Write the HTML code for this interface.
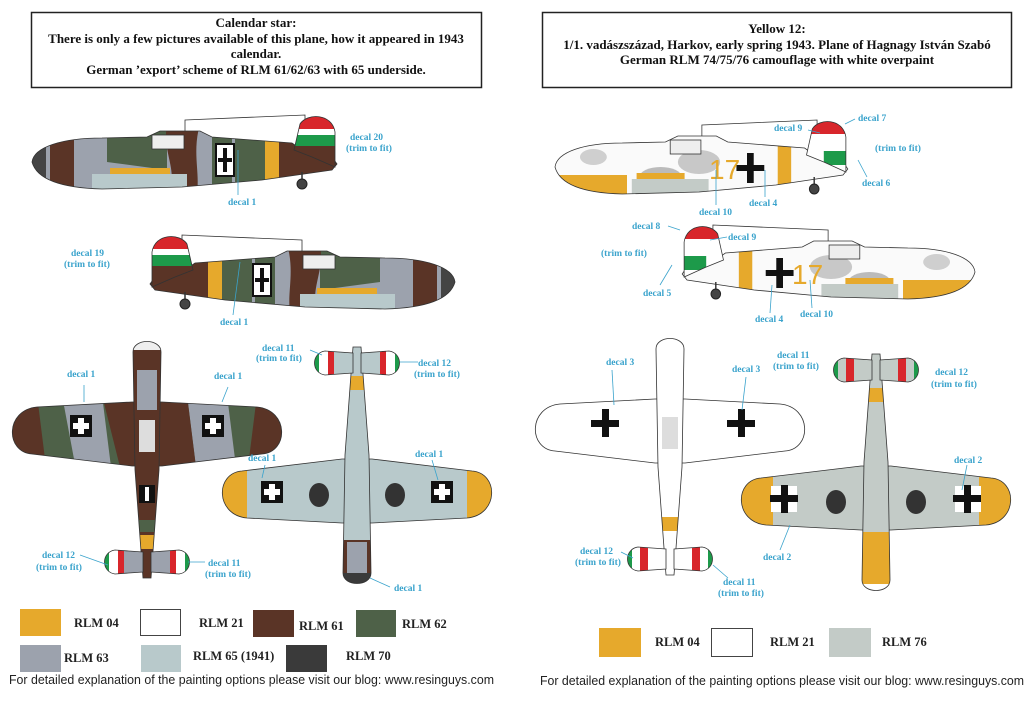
<!DOCTYPE html>
<html><head><meta charset="utf-8"><style>
html,body{margin:0;padding:0;background:#fff;}
svg{display:block;}
.h{font-family:"Liberation Serif",serif;font-weight:bold;font-size:13px;fill:#111;}
.d{font-family:"Liberation Serif",serif;font-weight:bold;font-size:9.5px;fill:#3aa3cc;}
.l{font-family:"Liberation Serif",serif;font-weight:bold;font-size:12.5px;fill:#222;}
.f{font-family:"Liberation Sans",sans-serif;font-size:12.5px;fill:#222;}
.ln{stroke:#3aa3cc;stroke-width:0.8;fill:none;}
</style></head><body>
<svg width="1027" height="710" viewBox="0 0 1027 710" xmlns="http://www.w3.org/2000/svg">
<defs>
<path id="fus" d="M0,50 C2,35 30,26 70,26 L115,25 L128,19 L168,19 L180,25 L260,31 L270,38 L300,45 L305,52 L300,58 L230,68 L150,75 L70,77 C30,76 5,68 0,50 Z"/>
<path id="fin" d="M262,38 L268,12 C275,1 300,1 303,20 L303,55 L280,45 Z"/>
<clipPath id="cf"><use href="#fus"/></clipPath>
<clipPath id="cfin"><use href="#fin"/></clipPath>
<path id="wing" d="M-15,62 L-110,67 C-142,70 -142,112 -115,114 L-15,126 L15,126 L115,114 C142,112 142,70 110,67 L15,62 Z"/>
<path id="body" d="M-14,12 C-14,-2 14,-2 14,12 L12,130 L4,238 L-4,238 L-12,130 Z"/>
<path id="tail" d="M-4,212 L-32,210 C-46,212 -46,232 -32,234 L-4,232 Z M4,212 L32,210 C46,212 46,232 32,234 L4,232 Z"/>
<clipPath id="cw"><use href="#wing"/></clipPath>
<clipPath id="ct"><use href="#tail"/></clipPath>
<clipPath id="cb"><use href="#body"/></clipPath>
</defs>

<rect x="31.5" y="12.5" width="450" height="75" fill="#fff" stroke="#222" stroke-width="1.5"/>
<text class="h" x="256" y="27" text-anchor="middle">Calendar star:</text>
<text class="h" x="256" y="43" text-anchor="middle">There is only a few pictures available of this plane,  how it appeared in 1943</text>
<text class="h" x="256" y="58" text-anchor="middle">calendar.</text>
<text class="h" x="256" y="74" text-anchor="middle">German ’export’ scheme of RLM 61/62/63 with 65 underside.</text>
<rect x="542.5" y="12.5" width="469" height="75" fill="#fff" stroke="#222" stroke-width="1.5"/>
<text class="h" x="777" y="33" text-anchor="middle">Yellow 12:</text>
<text class="h" x="777" y="49" text-anchor="middle">1/1. vadászszázad, Harkov, early spring 1943. Plane of Hagnagy István Szabó</text>
<text class="h" x="777" y="64" text-anchor="middle">German RLM  74/75/76 camouflage with white overpaint</text>

<g id="p1" transform="translate(32,112)">
 <polygon points="153,8 273,3 273,40 163,30 153,30" fill="#fff" stroke="#333" stroke-width="0.8"/>
 <g clip-path="url(#cf)">
  <rect x="0" y="0" width="310" height="80" fill="#9ca2ad"/>
  <rect x="0" y="0" width="14" height="80" fill="#444"/>
  <rect x="18" y="18" width="24" height="62" fill="#5a3426"/>
  <path d="M75,18 L135,18 L135,58 L75,50 Z" fill="#4e6148"/>
  <path d="M135,12 L168,12 C160,40 168,60 165,80 L138,80 C145,55 130,40 135,12 Z" fill="#5a3426"/>
  <rect x="180" y="18" width="20" height="62" fill="#4e6148"/>
  <rect x="203" y="18" width="30" height="62" fill="#4e6148"/>
  <rect x="233" y="18" width="14" height="62" fill="#e6a92c"/>
  <rect x="247" y="18" width="63" height="62" fill="#5a3426"/>
  <rect x="78" y="56" width="60" height="10" fill="#e6a92c"/>
  <rect x="60" y="62" width="95" height="18" fill="#b8c9cb"/>
 </g>
 <use href="#fus" fill="none" stroke="#333" stroke-width="0.8"/>
 <g clip-path="url(#cfin)">
  <rect x="255" y="0" width="50" height="60" fill="#5a3426"/>
  <rect x="255" y="0" width="50" height="17" fill="#d8262b"/>
  <rect x="255" y="17" width="50" height="6" fill="#fff"/>
  <rect x="255" y="23" width="50" height="11" fill="#1d9a4a"/>
 </g>
 <use href="#fin" fill="none" stroke="#333" stroke-width="0.8"/>
 <rect x="183" y="31" width="20" height="34" fill="#111"/>
 <rect x="185" y="33" width="16" height="30" fill="#fff"/>
 <rect x="191" y="36" width="4" height="24" fill="#111"/>
 <rect x="186" y="46" width="14" height="4" fill="#111"/>
 <rect x="120" y="23" width="32" height="14" fill="#eee" stroke="#333" stroke-width="0.8"/>
 <line x1="270" y1="60" x2="270" y2="70" stroke="#333" stroke-width="1.5"/>
 <circle cx="270" cy="72" r="5" fill="#444" stroke="#222"/>
</g>
<g transform="translate(455,232) scale(-1,1)"><use href="#p1" transform="translate(-32,-112)"/></g>

<g id="p3" transform="translate(555,117) scale(0.96,1)">
 <polygon points="153,8 273,3 273,40 163,30 153,30" fill="#fff" stroke="#333" stroke-width="0.8"/>
 <g clip-path="url(#cf)">
  <rect x="0" y="0" width="310" height="80" fill="#fafafa"/>
  <ellipse cx="40" cy="40" rx="14" ry="8" fill="#cfcfcf"/>
  <ellipse cx="150" cy="45" rx="22" ry="12" fill="#c8c8c8"/>
  <ellipse cx="110" cy="60" rx="22" ry="10" fill="#bbb"/>
  <rect x="0" y="58" width="75" height="22" fill="#e6a92c"/>
  <rect x="85" y="56" width="50" height="10" fill="#e6a92c"/>
  <rect x="80" y="62" width="80" height="18" fill="#c3cbc7"/>
  <rect x="232" y="18" width="14" height="62" fill="#e6a92c"/>
 </g>
 <use href="#fus" fill="none" stroke="#333" stroke-width="0.8"/>
 <g clip-path="url(#cfin)">
  <rect x="255" y="0" width="50" height="60" fill="#fff"/>
  <rect x="255" y="0" width="50" height="17" fill="#d8262b"/>
  <rect x="280" y="34" width="30" height="14" fill="#1d9a4a"/>
 </g>
 <use href="#fin" fill="none" stroke="#333" stroke-width="0.8"/>
 <rect x="200" y="36" width="7" height="30" fill="#111"/>
 <rect x="189" y="48" width="29" height="6" fill="#111"/>
 <rect x="120" y="23" width="32" height="14" fill="#eee" stroke="#333" stroke-width="0.8"/>
 <line x1="270" y1="60" x2="270" y2="70" stroke="#333" stroke-width="1.5"/>
 <circle cx="270" cy="72" r="5" fill="#444" stroke="#222"/>
</g>
<g transform="translate(975,222) scale(-1,1)"><use href="#p3" transform="translate(-555,-117)"/></g>
<text x="709" y="179" font-family="Liberation Sans,sans-serif" font-size="28" fill="#e6a92c">17</text>
<text x="792" y="284" font-family="Liberation Sans,sans-serif" font-size="28" fill="#e6a92c">17</text>

<g transform="translate(147,340)">
 <g clip-path="url(#cw)">
  <rect x="-145" y="55" width="290" height="80" fill="#4e6148"/>
  <path d="M-145,55 L-110,55 L-100,135 L-145,135 Z" fill="#5a3426"/>
  <path d="M-85,55 L-45,55 L-35,135 L-70,135 Z" fill="#9ca2ad"/>
  <path d="M-45,55 L-10,55 L-10,135 L-25,135 Z" fill="#5a3426"/>
  <path d="M40,55 L80,55 L90,135 L50,135 Z" fill="#9ca2ad"/>
  <path d="M10,55 L40,55 L50,135 L12,135 Z" fill="#5a3426"/>
  <path d="M110,55 L145,55 L145,135 L100,135 Z" fill="#5a3426"/>
 </g>
 <use href="#wing" fill="none" stroke="#333" stroke-width="0.8"/>
 <g clip-path="url(#cb)">
  <rect x="-15" y="0" width="30" height="240" fill="#5a3426"/>
  <rect x="-15" y="0" width="30" height="10" fill="#eee"/>
  <rect x="-10" y="30" width="20" height="40" fill="#9ca2ad"/>
  <rect x="-8" y="80" width="16" height="32" fill="#ddd"/>
  <rect x="-10" y="180" width="20" height="12" fill="#4e6148"/>
  <rect x="-10" y="195" width="20" height="14" fill="#e6a92c"/>
 </g>
 <use href="#body" fill="none" stroke="#333" stroke-width="0.8"/>
 <rect x="-8" y="145" width="16" height="18" fill="#111"/><rect x="-2" y="147" width="4" height="14" fill="#fff"/>
 <g clip-path="url(#ct)">
  <rect x="-50" y="205" width="100" height="35" fill="#9ca2ad"/>
  <rect x="-50" y="205" width="12" height="35" fill="#1d9a4a"/><rect x="-38" y="205" width="9" height="35" fill="#fff"/><rect x="-29" y="205" width="6" height="35" fill="#d8262b"/>
  <rect x="38" y="205" width="12" height="35" fill="#1d9a4a"/><rect x="29" y="205" width="9" height="35" fill="#fff"/><rect x="23" y="205" width="6" height="35" fill="#d8262b"/>
 </g>
 <use href="#tail" fill="none" stroke="#333" stroke-width="0.8"/>
 <g fill="#111"><rect x="-77" y="75" width="22" height="22"/><rect x="55" y="75" width="22" height="22"/></g>
 <g fill="#fff"><rect x="-69" y="78" width="6" height="16"/><rect x="-74" y="83" width="16" height="6"/><rect x="63" y="78" width="6" height="16"/><rect x="58" y="83" width="16" height="6"/></g>
</g>

<g transform="translate(357,585) scale(1,-1)">
 <g clip-path="url(#cw)">
  <rect x="-145" y="55" width="290" height="80" fill="#b8c9cb"/>
  <rect x="-145" y="55" width="35" height="80" fill="#e6a92c"/>
  <rect x="110" y="55" width="35" height="80" fill="#e6a92c"/>
  <ellipse cx="-38" cy="90" rx="10" ry="12" fill="#333"/><ellipse cx="38" cy="90" rx="10" ry="12" fill="#333"/>
 </g>
 <use href="#wing" fill="none" stroke="#333" stroke-width="0.8"/>
 <g clip-path="url(#cb)">
  <rect x="-15" y="0" width="30" height="240" fill="#b8c9cb"/>
  <rect x="-15" y="0" width="30" height="45" fill="#5a3426"/>
  <rect x="-10" y="5" width="20" height="38" fill="#9ca2ad"/>
  <rect x="-15" y="0" width="30" height="12" fill="#3a3a3a"/>
  <rect x="-10" y="195" width="20" height="14" fill="#e6a92c"/>
 </g>
 <use href="#body" fill="none" stroke="#333" stroke-width="0.8"/>
 <g clip-path="url(#ct)">
  <rect x="-50" y="205" width="100" height="35" fill="#b8c9cb"/>
  <rect x="-50" y="205" width="12" height="35" fill="#1d9a4a"/><rect x="-38" y="205" width="9" height="35" fill="#fff"/><rect x="-29" y="205" width="6" height="35" fill="#d8262b"/>
  <rect x="38" y="205" width="12" height="35" fill="#1d9a4a"/><rect x="29" y="205" width="9" height="35" fill="#fff"/><rect x="23" y="205" width="6" height="35" fill="#d8262b"/>
 </g>
 <use href="#tail" fill="none" stroke="#333" stroke-width="0.8"/>
 <g fill="#111"><rect x="-96" y="82" width="22" height="22"/><rect x="74" y="82" width="22" height="22"/></g>
 <g fill="#fff"><rect x="-88" y="85" width="6" height="16"/><rect x="-93" y="90" width="16" height="6"/><rect x="82" y="85" width="6" height="16"/><rect x="77" y="90" width="16" height="6"/></g>
</g>

<g transform="translate(670,337)">
 <use href="#wing" fill="#fff" stroke="#333" stroke-width="0.8"/>
 <g clip-path="url(#cb)">
  <rect x="-15" y="0" width="30" height="240" fill="#fff"/>
  <rect x="-8" y="80" width="16" height="32" fill="#ddd"/>
  <rect x="-10" y="180" width="20" height="14" fill="#e6a92c"/>
 </g>
 <use href="#body" fill="none" stroke="#333" stroke-width="0.8"/>
 <g clip-path="url(#ct)">
  <rect x="-50" y="205" width="100" height="35" fill="#fff"/>
  <rect x="-50" y="205" width="12" height="35" fill="#1d9a4a"/><rect x="-30" y="205" width="8" height="35" fill="#d8262b"/>
  <rect x="38" y="205" width="12" height="35" fill="#1d9a4a"/><rect x="22" y="205" width="8" height="35" fill="#d8262b"/>
 </g>
 <use href="#tail" fill="none" stroke="#333" stroke-width="0.8"/>
 <g fill="#111"><rect x="-68" y="72" width="7" height="28"/><rect x="-79" y="83" width="28" height="7"/><rect x="68" y="72" width="7" height="28"/><rect x="57" y="83" width="28" height="7"/></g>
</g>

<g transform="translate(876,592) scale(1,-1)">
 <g clip-path="url(#cw)">
  <rect x="-145" y="55" width="290" height="80" fill="#c3cbc7"/>
  <rect x="-145" y="55" width="42" height="80" fill="#e6a92c"/>
  <rect x="103" y="55" width="42" height="80" fill="#e6a92c"/>
  <ellipse cx="-40" cy="90" rx="10" ry="12" fill="#333"/><ellipse cx="40" cy="90" rx="10" ry="12" fill="#333"/>
 </g>
 <use href="#wing" fill="none" stroke="#333" stroke-width="0.8"/>
 <g clip-path="url(#cb)">
  <rect x="-15" y="0" width="30" height="240" fill="#c3cbc7"/>
  <rect x="-15" y="0" width="30" height="60" fill="#e6a92c"/>
  <rect x="-15" y="0" width="30" height="8" fill="#fff"/>
  <rect x="-10" y="190" width="20" height="14" fill="#e6a92c"/>
 </g>
 <use href="#body" fill="none" stroke="#333" stroke-width="0.8"/>
 <g clip-path="url(#ct)">
  <rect x="-50" y="205" width="100" height="35" fill="#c3cbc7"/>
  <rect x="-50" y="205" width="12" height="35" fill="#1d9a4a"/><rect x="-30" y="205" width="8" height="35" fill="#d8262b"/>
  <rect x="38" y="205" width="12" height="35" fill="#1d9a4a"/><rect x="22" y="205" width="8" height="35" fill="#d8262b"/>
 </g>
 <use href="#tail" fill="none" stroke="#333" stroke-width="0.8"/>
 <rect x="-105" y="80" width="26" height="26" fill="#fff"/><rect x="79" y="80" width="26" height="26" fill="#fff"/>
 <g fill="#111"><rect x="-95" y="79" width="7" height="28"/><rect x="-106" y="90" width="28" height="7"/><rect x="88" y="79" width="7" height="28"/><rect x="77" y="90" width="28" height="7"/></g>
</g>

<g class="d">
<text x="350" y="140">decal 20</text><text x="346" y="151">(trim to fit)</text>
<text x="228" y="205">decal 1</text>
<text x="71" y="256">decal 19</text><text x="64" y="267">(trim to fit)</text>
<text x="220" y="325">decal 1</text>
<text x="67" y="377">decal 1</text><text x="214" y="379">decal 1</text>
<text x="262" y="351">decal 11</text><text x="256" y="361">(trim to fit)</text>
<text x="418" y="366">decal 12</text><text x="414" y="377">(trim to fit)</text>
<text x="248" y="461">decal 1</text><text x="415" y="457">decal 1</text>
<text x="42" y="558">decal 12</text><text x="36" y="570">(trim to fit)</text>
<text x="208" y="566">decal 11</text><text x="205" y="577">(trim to fit)</text>
<text x="394" y="591">decal 1</text>
<text x="858" y="121">decal 7</text><text x="774" y="131">decal 9</text>
<text x="875" y="151">(trim to fit)</text><text x="862" y="186">decal 6</text>
<text x="749" y="206">decal 4</text><text x="699" y="215">decal 10</text>
<text x="632" y="229">decal 8</text><text x="728" y="240">decal 9</text>
<text x="601" y="256">(trim to fit)</text><text x="643" y="296">decal 5</text>
<text x="755" y="322">decal 4</text><text x="800" y="317">decal 10</text>
<text x="606" y="365">decal 3</text><text x="732" y="372">decal 3</text>
<text x="777" y="358">decal 11</text><text x="773" y="369">(trim to fit)</text>
<text x="935" y="375">decal 12</text><text x="931" y="387">(trim to fit)</text>
<text x="954" y="463">decal 2</text><text x="763" y="560">decal 2</text>
<text x="580" y="554">decal 12</text><text x="575" y="565">(trim to fit)</text>
<text x="723" y="585">decal 11</text><text x="718" y="596">(trim to fit)</text>
</g>
<g class="ln">
<line x1="238" y1="195" x2="238" y2="150"/><line x1="233" y1="315" x2="240" y2="262"/>
<line x1="84" y1="385" x2="84" y2="402"/><line x1="228" y1="387" x2="222" y2="402"/>
<line x1="265" y1="465" x2="262" y2="478"/><line x1="432" y1="460" x2="438" y2="480"/>
<line x1="80" y1="555" x2="108" y2="565"/><line x1="205" y1="562" x2="188" y2="562"/>
<line x1="310" y1="350" x2="322" y2="355"/><line x1="418" y1="362" x2="400" y2="362"/>
<line x1="390" y1="587" x2="370" y2="578"/>
<line x1="612" y1="370" x2="614" y2="405"/><line x1="746" y1="377" x2="742" y2="410"/>
<line x1="967" y1="465" x2="962" y2="490"/><line x1="780" y1="550" x2="790" y2="525"/>
<line x1="621" y1="552" x2="633" y2="558"/><line x1="728" y1="578" x2="713" y2="565"/>
<line x1="716" y1="205" x2="716" y2="170"/><line x1="765" y1="197" x2="765" y2="170"/>
<line x1="855" y1="119" x2="845" y2="124"/><line x1="808" y1="130" x2="820" y2="133"/>
<line x1="867" y1="177" x2="858" y2="160"/><line x1="668" y1="226" x2="680" y2="230"/>
<line x1="727" y1="237" x2="710" y2="240"/><line x1="660" y1="285" x2="672" y2="265"/>
<line x1="770" y1="313" x2="772" y2="285"/><line x1="812" y1="308" x2="810" y2="280"/>
</g>

<rect x="20" y="609" width="41" height="27" fill="#e6a92c"/>
<text class="l" x="74" y="627">RLM 04</text>
<rect x="140.5" y="609.5" width="40" height="26" fill="#fff" stroke="#444"/>
<text class="l" x="199" y="627">RLM 21</text>
<rect x="253" y="610" width="41" height="27" fill="#5a3426"/>
<text class="l" x="299" y="630">RLM 61</text>
<rect x="356" y="610" width="40" height="27" fill="#4e6148"/>
<text class="l" x="402" y="628">RLM 62</text>
<rect x="20" y="645" width="41" height="27" fill="#9ca2ad"/>
<text class="l" x="64" y="662">RLM 63</text>
<rect x="141" y="645" width="40" height="27" fill="#b8c9cb"/>
<text class="l" x="193" y="660">RLM 65 (1941)</text>
<rect x="286" y="645" width="41" height="27" fill="#3a3a3a"/>
<text class="l" x="346" y="660">RLM 70</text>
<text class="f" x="9" y="684" textLength="485" lengthAdjust="spacingAndGlyphs">For detailed explanation of the painting options please visit our blog: www.resinguys.com</text>

<rect x="599" y="628" width="42" height="29" fill="#e6a92c"/>
<text class="l" x="655" y="646">RLM 04</text>
<rect x="711.5" y="628.5" width="41" height="28" fill="#fff" stroke="#444"/>
<text class="l" x="770" y="646">RLM 21</text>
<rect x="829" y="628" width="42" height="29" fill="#c3cbc7"/>
<text class="l" x="882" y="646">RLM 76</text>
<text class="f" x="540" y="685" textLength="484" lengthAdjust="spacingAndGlyphs">For detailed explanation of the painting options please visit our blog: www.resinguys.com</text>
</svg>
</body></html>
